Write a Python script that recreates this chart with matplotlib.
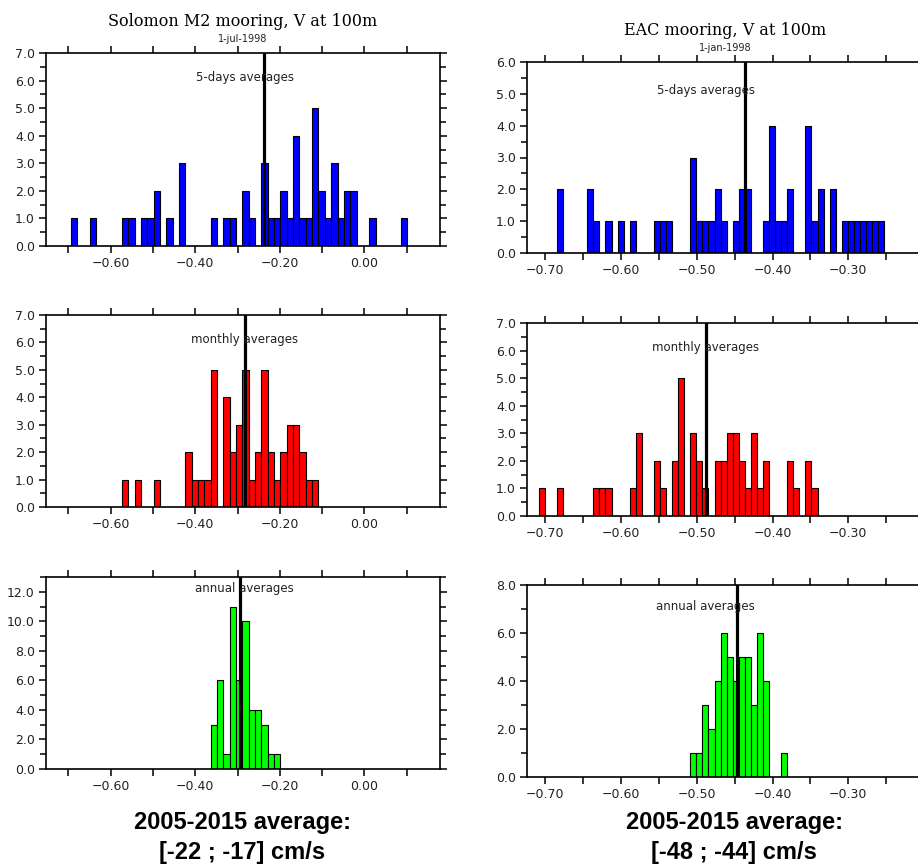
import numpy as np
import matplotlib
matplotlib.use("Agg")
import matplotlib.pyplot as plt
from matplotlib.ticker import MultipleLocator, FormatStrFormatter

# histogram bins (left edge of bin 0, bin width)
sol_x0, sol_w = -0.6935, 0.015
eac_x0, eac_w = -0.7086, 0.008

# Solomon M2 mooring: bin index and count
sol_5d_bins = [0, 3, 8, 9, 11, 12, 13, 15, 17, 22, 24, 25, 27, 28, 30, 31, 32, 33,
               34, 35, 36, 37, 38, 39, 40, 41, 42, 43, 44, 47, 52]
sol_5d_counts = [1, 1, 1, 1, 1, 1, 2, 1, 3, 1, 1, 1, 2, 1, 3, 1, 1, 2,
                 1, 4, 1, 1, 5, 2, 1, 3, 1, 2, 2, 1, 1]
sol_mon_bins = [8, 10, 13, 18, 19, 20, 21, 22, 24, 25, 26, 27, 28, 29, 30, 31, 32,
                33, 34, 35, 36, 37, 38]
sol_mon_counts = [1, 1, 1, 2, 1, 1, 1, 5, 4, 2, 3, 5, 1, 2, 5, 2, 1,
                  2, 3, 3, 2, 1, 1]
sol_ann_bins = [22, 23, 24, 25, 26, 27, 28, 29, 30, 31, 32]
sol_ann_counts = [3, 6, 1, 11, 6, 10, 4, 4, 3, 1, 1]

# EAC mooring
eac_5d_bins = [3, 8, 9, 11, 13, 15, 19, 20, 21, 25, 26, 27, 28, 29, 30, 32, 33, 34,
               37, 38, 39, 40, 41, 44, 45, 46, 48, 50, 51, 52, 53, 54, 55, 56]
eac_5d_counts = [2, 2, 1, 1, 1, 1, 1, 1, 1, 3, 1, 1, 1, 2, 1, 1, 2, 2,
                 1, 4, 1, 1, 2, 4, 1, 2, 2, 1, 1, 1, 1, 1, 1, 1]
eac_mon_bins = [0, 3, 9, 10, 11, 15, 16, 19, 20, 22, 23, 25, 26, 27, 29, 30, 31,
                32, 33, 34, 35, 36, 37, 41, 42, 44, 45]
eac_mon_counts = [1, 1, 1, 1, 1, 1, 3, 2, 1, 2, 5, 3, 2, 1, 2, 2, 3,
                  3, 2, 1, 3, 1, 2, 2, 1, 2, 1]
eac_ann_bins = [25, 26, 27, 28, 29, 30, 31, 32, 33, 34, 35, 36, 37, 40]
eac_ann_counts = [1, 1, 3, 2, 4, 6, 5, 4, 5, 5, 3, 6, 4, 1]

# mean values (thick black line)
sol_means = [-0.237, -0.282, -0.294]
eac_means = [-0.437, -0.4885, -0.447]

labels = ["5-days averages", "monthly averages", "annual averages"]
colors = ["#0000ff", "#ff0000", "#00ff00"]

fig = plt.figure(figsize=(9.18, 8.67), dpi=100)
W, H = 918, 867


def px_axes(left, top, right, bottom):
    return fig.add_axes([left / W, 1 - bottom / H, (right - left) / W, (bottom - top) / H])


def fmt(t):
    s = "%.2f" % t
    if s == "-0.00":
        s = "0.00"
    return s.replace("-", "\u2212")


def style(ax, ylim, ymaj, ymin):
    ax.set_ylim(*ylim)
    ax.yaxis.set_major_locator(MultipleLocator(ymaj))
    ax.yaxis.set_minor_locator(MultipleLocator(ymin))
    ax.yaxis.set_major_formatter(FormatStrFormatter("%.1f"))
    ax.tick_params(which="both", direction="out", top=True, right=True,
                   labelsize=9, labelcolor="#222222", width=1.1, pad=3)
    ax.tick_params(which="major", length=5)
    ax.tick_params(which="minor", length=4.5)
    ax.tick_params(axis="x", which="minor", top=False, bottom=False)
    for s in ax.spines.values():
        s.set_linewidth(1.2)


def panel(ax, x0, w, bins, counts, color, mean, label, label_xy):
    x = x0 + np.array(bins) * w
    ax.bar(x, counts, width=w, align="edge", color=color, edgecolor="black", linewidth=0.8)
    ax.axvline(mean, 0, 1, color="black", lw=2.3)
    ax.text(label_xy[0], label_xy[1], label, ha="center", va="center",
            fontsize=8.5, color="#222222")


# left column
left_pos = [(46, 53, 440, 246), (46, 315, 440, 507), (46, 577, 440, 769)]
sol_data = [(sol_5d_bins, sol_5d_counts), (sol_mon_bins, sol_mon_counts), (sol_ann_bins, sol_ann_counts)]
sol_y = [((0, 7), 1, 0.5, 6.1), ((0, 7), 1, 0.5, 6.1), ((0, 13), 2, 1, 12.2)]
sol_ticks = np.round(np.arange(-0.7, 0.11, 0.1), 2)
sol_ticklabels = [fmt(t) if i % 2 == 1 else "" for i, t in enumerate(sol_ticks)]
sol_axes = []
for i in range(3):
    ax = px_axes(*left_pos[i])
    style(ax, sol_y[i][0], sol_y[i][1], sol_y[i][2])
    panel(ax, sol_x0, sol_w, sol_data[i][0], sol_data[i][1], colors[i],
          sol_means[i], labels[i], (-0.2826, sol_y[i][3]))
    ax.set_xlim(-0.7528, 0.1788)
    ax.set_xticks(sol_ticks)
    ax.set_xticklabels(sol_ticklabels)
    sol_axes.append(ax)

# right column
right_pos = [(527, 62, 924, 253), (527, 323, 924, 516), (527, 585, 924, 777)]
eac_data = [(eac_5d_bins, eac_5d_counts), (eac_mon_bins, eac_mon_counts), (eac_ann_bins, eac_ann_counts)]
eac_y = [((0, 6), 1, 0.5, 5.1), ((0, 7), 1, 0.5, 6.1), ((0, 8), 2, 1, 7.1)]
eac_ticks = np.round(np.arange(-0.70, -0.24, 0.05), 2)
eac_ticklabels = [fmt(t) if i % 2 == 0 else "" for i, t in enumerate(eac_ticks)]
eac_axes = []
for i in range(3):
    ax = px_axes(*right_pos[i])
    style(ax, eac_y[i][0], eac_y[i][1], eac_y[i][2])
    panel(ax, eac_x0, eac_w, eac_data[i][0], eac_data[i][1], colors[i],
          eac_means[i], labels[i], (-0.4885, eac_y[i][3]))
    ax.set_xlim(-0.7242, -0.2)
    ax.set_xticks(eac_ticks)
    ax.set_xticklabels(eac_ticklabels)
    eac_axes.append(ax)

# titles
for ax, title, date in [(sol_axes[0], "Solomon M2 mooring, V at 100m", "1-jul-1998"),
                        (eac_axes[0], "EAC mooring, V at 100m", "1-jan-1998")]:
    ax.annotate(title, (0.5, 1), xycoords="axes fraction", xytext=(0, 23),
                textcoords="offset points", ha="center", va="center",
                fontsize=11.5, family="DejaVu Serif")
    ax.annotate(date, (0.5, 1), xycoords="axes fraction", xytext=(0, 10),
                textcoords="offset points", ha="center", va="center",
                fontsize=7, color="#222222")

# period averages
fig.text(242 / W, 1 - 823 / H, "2005-2015 average:", ha="center", va="center",
         fontsize=17, fontweight="bold", family="Liberation Sans")
fig.text(242 / W, 1 - 852 / H, "[-22 ; -17] cm/s", ha="center", va="center",
         fontsize=17, fontweight="bold", family="Liberation Sans")
fig.text(734 / W, 1 - 823 / H, "2005-2015 average:", ha="center", va="center",
         fontsize=17, fontweight="bold", family="Liberation Sans")
fig.text(734 / W, 1 - 852 / H, "[-48 ; -44] cm/s", ha="center", va="center",
         fontsize=17, fontweight="bold", family="Liberation Sans")

fig.savefig("out.png", dpi=100)
